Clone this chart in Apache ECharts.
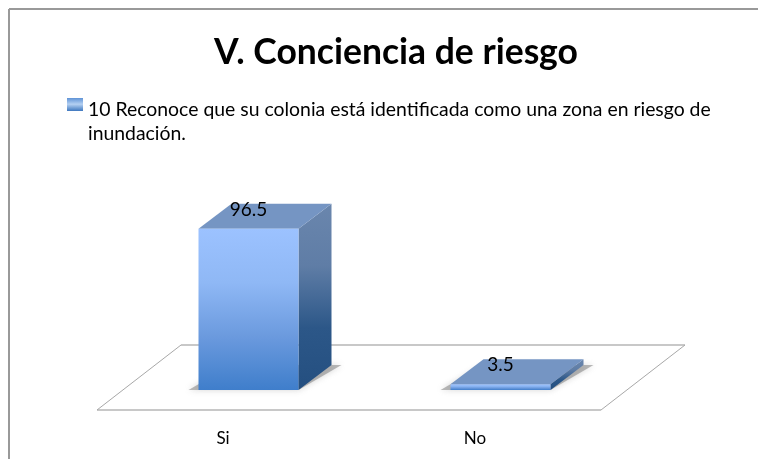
<!DOCTYPE html>
<html>
<head>
<meta charset="utf-8">
<title>V. Conciencia de riesgo</title>
<script src="https://cdn.jsdelivr.net/npm/echarts@6/dist/echarts.min.js"></script>
<style>
  html, body { margin: 0; padding: 0; background: #fff; }
  #main { width: 758px; height: 459px; }
</style>
</head>
<body>
<div id="main"></div>
<script>
const categories = ["Si", "No"];
const values = [96.5, 3.5];
const seriesName = "10 Reconoce que su colonia está identificada como una zona en riesgo de\ninundación.";
const chartTitle = "V. Conciencia de riesgo";

const fontName = "Lato";
const floorDepth = [84, -65];
const barDepth = [33, -25];
const barWidth = 100;

function grad(x2, y2, stops) {
  return new echarts.graphic.LinearGradient(0, 0, x2, y2, stops.map((c, i) => ({
    offset: i / (stops.length - 1),
    color: c,
  })));
}

function renderFloor(params, api) {
  const cs = params.coordSys;
  const x0 = cs.x, x1 = cs.x + cs.width, y = cs.y + cs.height;
  const dx = floorDepth[0], dy = floorDepth[1];
  const edge = (a, b, c, d, color, width) => ({
    type: "line",
    shape: { x1: a, y1: b, x2: c, y2: d },
    style: { stroke: color, lineWidth: width },
  });
  return {
    type: "group",
    children: [
      edge(x0 + dx, y + dy, x1 + dx, y + dy, "#c8c8c8", 2),
      edge(x0, y, x1, y, "#c8c8c8", 2),
      edge(x0, y, x0 + dx, y + dy, "#a8a8a8", 1),
      edge(x1, y, x1 + dx, y + dy, "#a8a8a8", 1),
    ],
  };
}

function renderBar(params, api) {
  const base = api.coord([api.value(0), 0]);
  const top = api.coord([api.value(0), api.value(1)]);
  // the bar stands in the middle of the floor depth
  const ox = (floorDepth[0] - barDepth[0]) / 2;
  const oy = (floorDepth[1] - barDepth[1]) / 2;
  const l = base[0] - barWidth / 2 + ox;
  const r = l + barWidth;
  const b = base[1] + oy;
  const t = top[1] + oy;
  const dx = barDepth[0], dy = barDepth[1];
  const poly = (points, fill, extra) => ({
    type: "polygon",
    shape: { points },
    style: Object.assign({ fill }, extra || {}),
  });
  return {
    type: "group",
    children: [
      // soft wedges of shadow at the front left and back right of the foot
      poly([[l - 10, b], [r, b], [r + dx + 10, b + dy], [l + dx, b + dy]], "rgba(130,130,130,0.55)", {
        shadowBlur: 6,
        shadowColor: "rgba(130,130,130,0.6)",
      }),
      poly([[r, t], [r + dx, t + dy], [r + dx, b + dy], [r, b]], grad(0, 1, ["#6a86ad", "#5f7da6", "#2c5788", "#244f80"])),
      poly([[l, t], [r, t], [r + dx, t + dy], [l + dx, t + dy]], "#7595c3"),
      {
        type: "rect",
        shape: { x: l, y: t, width: barWidth, height: b - t },
        style: { fill: grad(0, 1, ["#9cc2ff", "#8fb8f5", "#6b9ade", "#3f7ecb"]) },
      },
      {
        type: "text",
        x: l + barWidth / 2,
        y: t - 19,
        style: {
          text: String(api.value(1)),
          fill: "#000",
          font: "19px " + fontName,
          align: "center",
          verticalAlign: "middle",
        },
      },
    ],
  };
}

const myChart = echarts.init(document.getElementById("main"));

myChart.setOption({
  animation: false,
  backgroundColor: "#fff",
  title: {
    text: chartTitle,
    left: 391,
    top: 30,
    textAlign: "center",
    textStyle: { color: "#000", fontFamily: fontName, fontWeight: "bold", fontSize: 35.5 },
  },
  legend: {
    left: 67,
    top: 98,
    itemWidth: 16,
    itemHeight: 48,
    itemGap: 0,
    padding: 0,
    // blank sub path keeps the swatch beside the first line of the two line name
    icon: "path://M0 0H16V13H0Z M0 48Z",
    data: [{ name: seriesName }],
    textStyle: { color: "#000", fontFamily: fontName, fontSize: 19.4, lineHeight: 24 },
  },
  grid: { left: 97, right: 157, top: 243, bottom: 49 },
  xAxis: {
    type: "category",
    data: categories,
    axisLine: { show: false },
    axisTick: { show: false },
    axisLabel: { color: "#000", fontFamily: fontName, fontSize: 17, margin: 20 },
  },
  yAxis: { type: "value", min: 0, max: 100, show: false },
  series: [
    {
      type: "custom",
      silent: true,
      renderItem: renderFloor,
      data: [0],
      encode: { x: 0, y: 0 },
      clip: false,
    },
    {
      name: seriesName,
      type: "custom",
      renderItem: renderBar,
      encode: { x: 0, y: 1 },
      data: categories.map((c, i) => [i, values[i]]),
      itemStyle: {
        color: new echarts.graphic.LinearGradient(0, 0, 0, 1, [
          { offset: 0, color: "#5f93d6" },
          { offset: 0.13, color: "#b4d0f2" },
          { offset: 0.27, color: "#3f78bf" },
          { offset: 0.28, color: "#ffffff" },
          { offset: 1, color: "#ffffff" },
        ]),
      },
    },
  ],
  graphic: [
    { type: "line", shape: { x1: 9, y1: 9, x2: 758, y2: 9 }, style: { stroke: "#999", lineWidth: 2 } },
    { type: "line", shape: { x1: 9, y1: 9, x2: 9, y2: 459 }, style: { stroke: "#999", lineWidth: 2 } },
  ],
});
</script>
</body>
</html>
